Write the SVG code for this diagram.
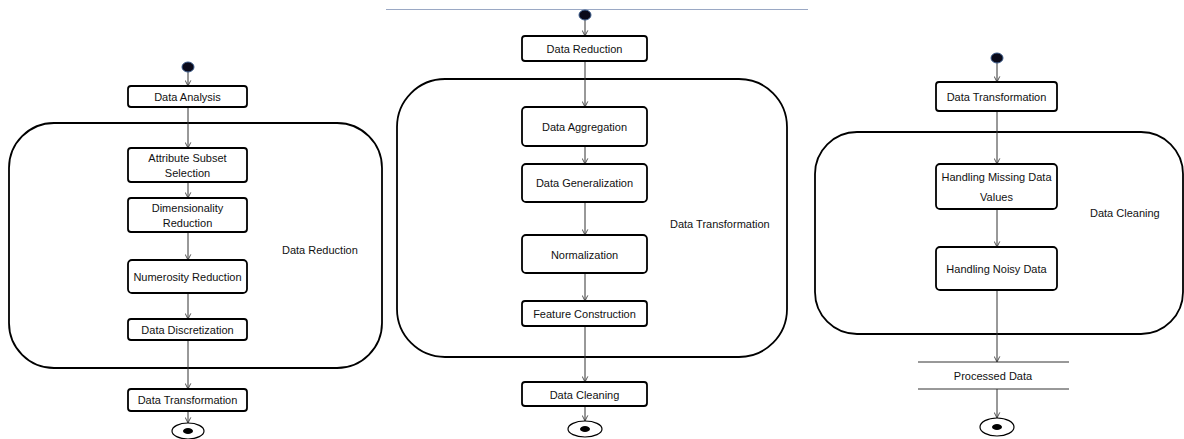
<svg xmlns="http://www.w3.org/2000/svg" width="1184" height="439" viewBox="0 0 1184 439">
<defs>
<marker id="arr" viewBox="0 0 10 10" refX="9" refY="5" markerWidth="7" markerHeight="7" orient="auto" markerUnits="userSpaceOnUse">
<path d="M1,1 L9,5 L1,9" fill="none" stroke="#333" stroke-width="1.2"/>
</marker>
<style>
.box{fill:#fff;stroke:#000;stroke-width:1.8}
.cont{fill:none;stroke:#000;stroke-width:1.8}
.t{font-family:"Liberation Sans",Arial,sans-serif;font-size:11px;fill:#111;text-anchor:middle}
.lbl{font-family:"Liberation Sans",Arial,sans-serif;font-size:11px;fill:#111}
.c{stroke:#333;stroke-width:1;fill:none;marker-end:url(#arr)}
.start{fill:#0a0a1a;stroke:#3a5a8a;stroke-width:1}
.endo{fill:#fff;stroke:#000;stroke-width:1.2}
.endi{fill:#000}
</style>
</defs>
<rect width="1184" height="439" fill="#fff"/>
<line x1="386" y1="9.5" x2="808" y2="9.5" stroke="#9aa8c4" stroke-width="1"/>

<g id="containers">
<rect id="cont1" class="cont" x="9" y="123" width="373" height="245" rx="45"/>
<rect id="cont2" class="cont" x="397" y="79" width="390" height="278" rx="48"/>
<rect id="cont3" class="cont" x="815" y="132" width="368" height="202" rx="42"/>
<text class="lbl" x="282" y="254">Data Reduction</text>
<text class="lbl" x="670" y="228">Data Transformation</text>
<text class="lbl" x="1090" y="217">Data Cleaning</text>
</g>

<g id="connectors">
<line class="c" x1="188" y1="72" x2="188" y2="86"/>
<line class="c" x1="188" y1="107" x2="188" y2="148"/>
<line class="c" x1="188" y1="182" x2="188" y2="198"/>
<line class="c" x1="188" y1="232" x2="188" y2="260"/>
<line class="c" x1="188" y1="293" x2="188" y2="319"/>
<line class="c" x1="188" y1="340" x2="188" y2="389"/>
<line class="c" x1="188" y1="411" x2="188" y2="423"/>

<line class="c" x1="585" y1="20" x2="585" y2="36"/>
<line class="c" x1="585" y1="61" x2="585" y2="107"/>
<line class="c" x1="585" y1="146" x2="585" y2="164"/>
<line class="c" x1="585" y1="202" x2="585" y2="235"/>
<line class="c" x1="585" y1="273" x2="585" y2="301"/>
<line class="c" x1="585" y1="326" x2="585" y2="382"/>
<line class="c" x1="585" y1="406" x2="585" y2="421"/>

<line class="c" x1="997" y1="63" x2="997" y2="82"/>
<line class="c" x1="997" y1="111" x2="997" y2="164"/>
<line class="c" x1="997" y1="209" x2="997" y2="247"/>
<line class="c" x1="997" y1="290" x2="997" y2="362"/>
<line class="c" x1="997" y1="389" x2="997" y2="418"/>
</g>

<g id="start1"><ellipse class="start" cx="188" cy="67" rx="6" ry="5"/></g>
<g id="data-analysis"><rect class="box" x="128" y="86" width="119" height="21" rx="3"/><text class="t" x="187.5" y="100.5">Data Analysis</text></g>
<g id="attr-subset"><rect class="box" x="128" y="148" width="119" height="34" rx="3"/><text class="t" x="187.5" y="162">Attribute Subset</text><text class="t" x="187.5" y="177">Selection</text></g>
<g id="dim-red"><rect class="box" x="128" y="198" width="119" height="34" rx="3"/><text class="t" x="187.5" y="212">Dimensionality</text><text class="t" x="187.5" y="227">Reduction</text></g>
<g id="num-red"><rect class="box" x="128" y="260" width="119" height="33" rx="4"/><text class="t" x="187.5" y="281">Numerosity Reduction</text></g>
<g id="disc"><rect class="box" x="128" y="319" width="119" height="21" rx="3"/><text class="t" x="187.5" y="333.5">Data Discretization</text></g>
<g id="dt1"><rect class="box" x="128" y="389" width="119" height="22" rx="3"/><text class="t" x="187.5" y="404">Data Transformation</text></g>
<g id="end1"><ellipse class="endo" cx="188" cy="431" rx="16" ry="8"/><ellipse class="endi" cx="188" cy="431" rx="5" ry="3"/></g>

<g id="start2"><ellipse class="start" cx="585" cy="15" rx="6" ry="5"/></g>
<g id="dr2"><rect class="box" x="522" y="36" width="125" height="25" rx="3"/><text class="t" x="584.5" y="52.5">Data Reduction</text></g>
<g id="agg"><rect class="box" x="522" y="107" width="125" height="39" rx="4"/><text class="t" x="584.5" y="130.5">Data Aggregation</text></g>
<g id="gen"><rect class="box" x="522" y="164" width="125" height="38" rx="4"/><text class="t" x="584.5" y="187">Data Generalization</text></g>
<g id="norm"><rect class="box" x="522" y="235" width="125" height="38" rx="4"/><text class="t" x="584.5" y="258.5">Normalization</text></g>
<g id="feat"><rect class="box" x="522" y="301" width="125" height="25" rx="3"/><text class="t" x="584.5" y="318">Feature Construction</text></g>
<g id="dc2"><rect class="box" x="522" y="382" width="125" height="24" rx="3"/><text class="t" x="584.5" y="398.5">Data Cleaning</text></g>
<g id="end2"><ellipse class="endo" cx="585" cy="429" rx="17" ry="8"/><ellipse class="endi" cx="585" cy="429" rx="5" ry="3"/></g>

<g id="start3"><ellipse class="start" cx="997" cy="58" rx="6" ry="5"/></g>
<g id="dt3"><rect class="box" x="936" y="82" width="121" height="29" rx="3"/><text class="t" x="996.5" y="101">Data Transformation</text></g>
<g id="missing"><rect class="box" x="936" y="164" width="121" height="45" rx="4"/><text class="t" x="996.5" y="181">Handling Missing Data</text><text class="t" x="996.5" y="201">Values</text></g>
<g id="noisy"><rect class="box" x="936" y="247" width="121" height="43" rx="4"/><text class="t" x="996.5" y="273">Handling Noisy Data</text></g>
<g id="processed"><line x1="918" y1="362" x2="1069" y2="362" stroke="#333" stroke-width="1"/><line x1="918" y1="389" x2="1069" y2="389" stroke="#333" stroke-width="1"/><text class="t" x="993" y="380">Processed Data</text></g>
<g id="end3"><ellipse class="endo" cx="997" cy="427" rx="17" ry="9"/><ellipse class="endi" cx="997" cy="427" rx="5" ry="3"/></g>
</svg>
